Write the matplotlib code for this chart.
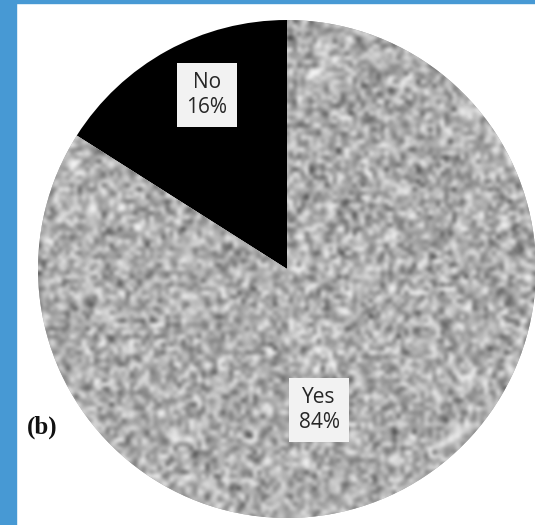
import numpy as np
import matplotlib
matplotlib.use("Agg")
import matplotlib.pyplot as plt
from matplotlib.patches import Rectangle

labels = ["No", "Yes"]
shares = [16, 84]
colors = ["#000000", "#a8a8a8"]

fig = plt.figure(figsize=(5.35, 5.25), dpi=100)
ax = fig.add_axes([0, 0, 1, 1])

# blue frame on the left and top
fig.patches.append(Rectangle((0, 0), 16 / 535, 1, transform=fig.transFigure,
                             color="#4799d4", zorder=5))
fig.patches.append(Rectangle((0, 1 - 3 / 525), 1, 3 / 525, transform=fig.transFigure,
                             color="#4799d4", zorder=5))

cx, cy, r = 287, 525 - 269, 249
wedges, _ = ax.pie(shares, colors=colors, startangle=90, counterclock=True,
                   center=(cx, cy), radius=r, frame=True,
                   wedgeprops=dict(linewidth=0))
ax.set_xlim(0, 535)
ax.set_ylim(0, 525)
ax.set_aspect("auto")
ax.axis("off")

# speckled grey texture for the "Yes" slice
rng = np.random.default_rng(3)
noise = rng.normal(0.68, 0.17, (125, 125))
noise = np.clip(noise, 0.15, 0.97)
img = ax.imshow(noise, cmap="gray", vmin=0, vmax=1, interpolation="bicubic",
                extent=(cx - r, cx + r, cy - r, cy + r), zorder=2)
img.set_clip_path(wedges[1])
ax.set_xlim(0, 535)
ax.set_ylim(0, 525)
ax.set_aspect("auto")

box = dict(boxstyle="square,pad=0.45", facecolor="#f2f2f2", edgecolor="none")
ax.text(207, 525 - 95, f"{labels[0]}\n{shares[0]}%", ha="center", va="center",
        fontsize=15, color="#262626", family="Open Sans", linespacing=1.2,
        bbox=box, zorder=4)
ax.text(319, 525 - 410, f"{labels[1]}\n{shares[1]}%", ha="center", va="center",
        fontsize=15, color="#262626", family="Open Sans", linespacing=1.2,
        bbox=box, zorder=4)

ax.text(42, 525 - 427, "(b)", ha="center", va="center", fontsize=18,
        fontweight="bold", family="Liberation Serif", color="#111111", zorder=4)

fig.savefig("out.png", dpi=100, facecolor="white")
